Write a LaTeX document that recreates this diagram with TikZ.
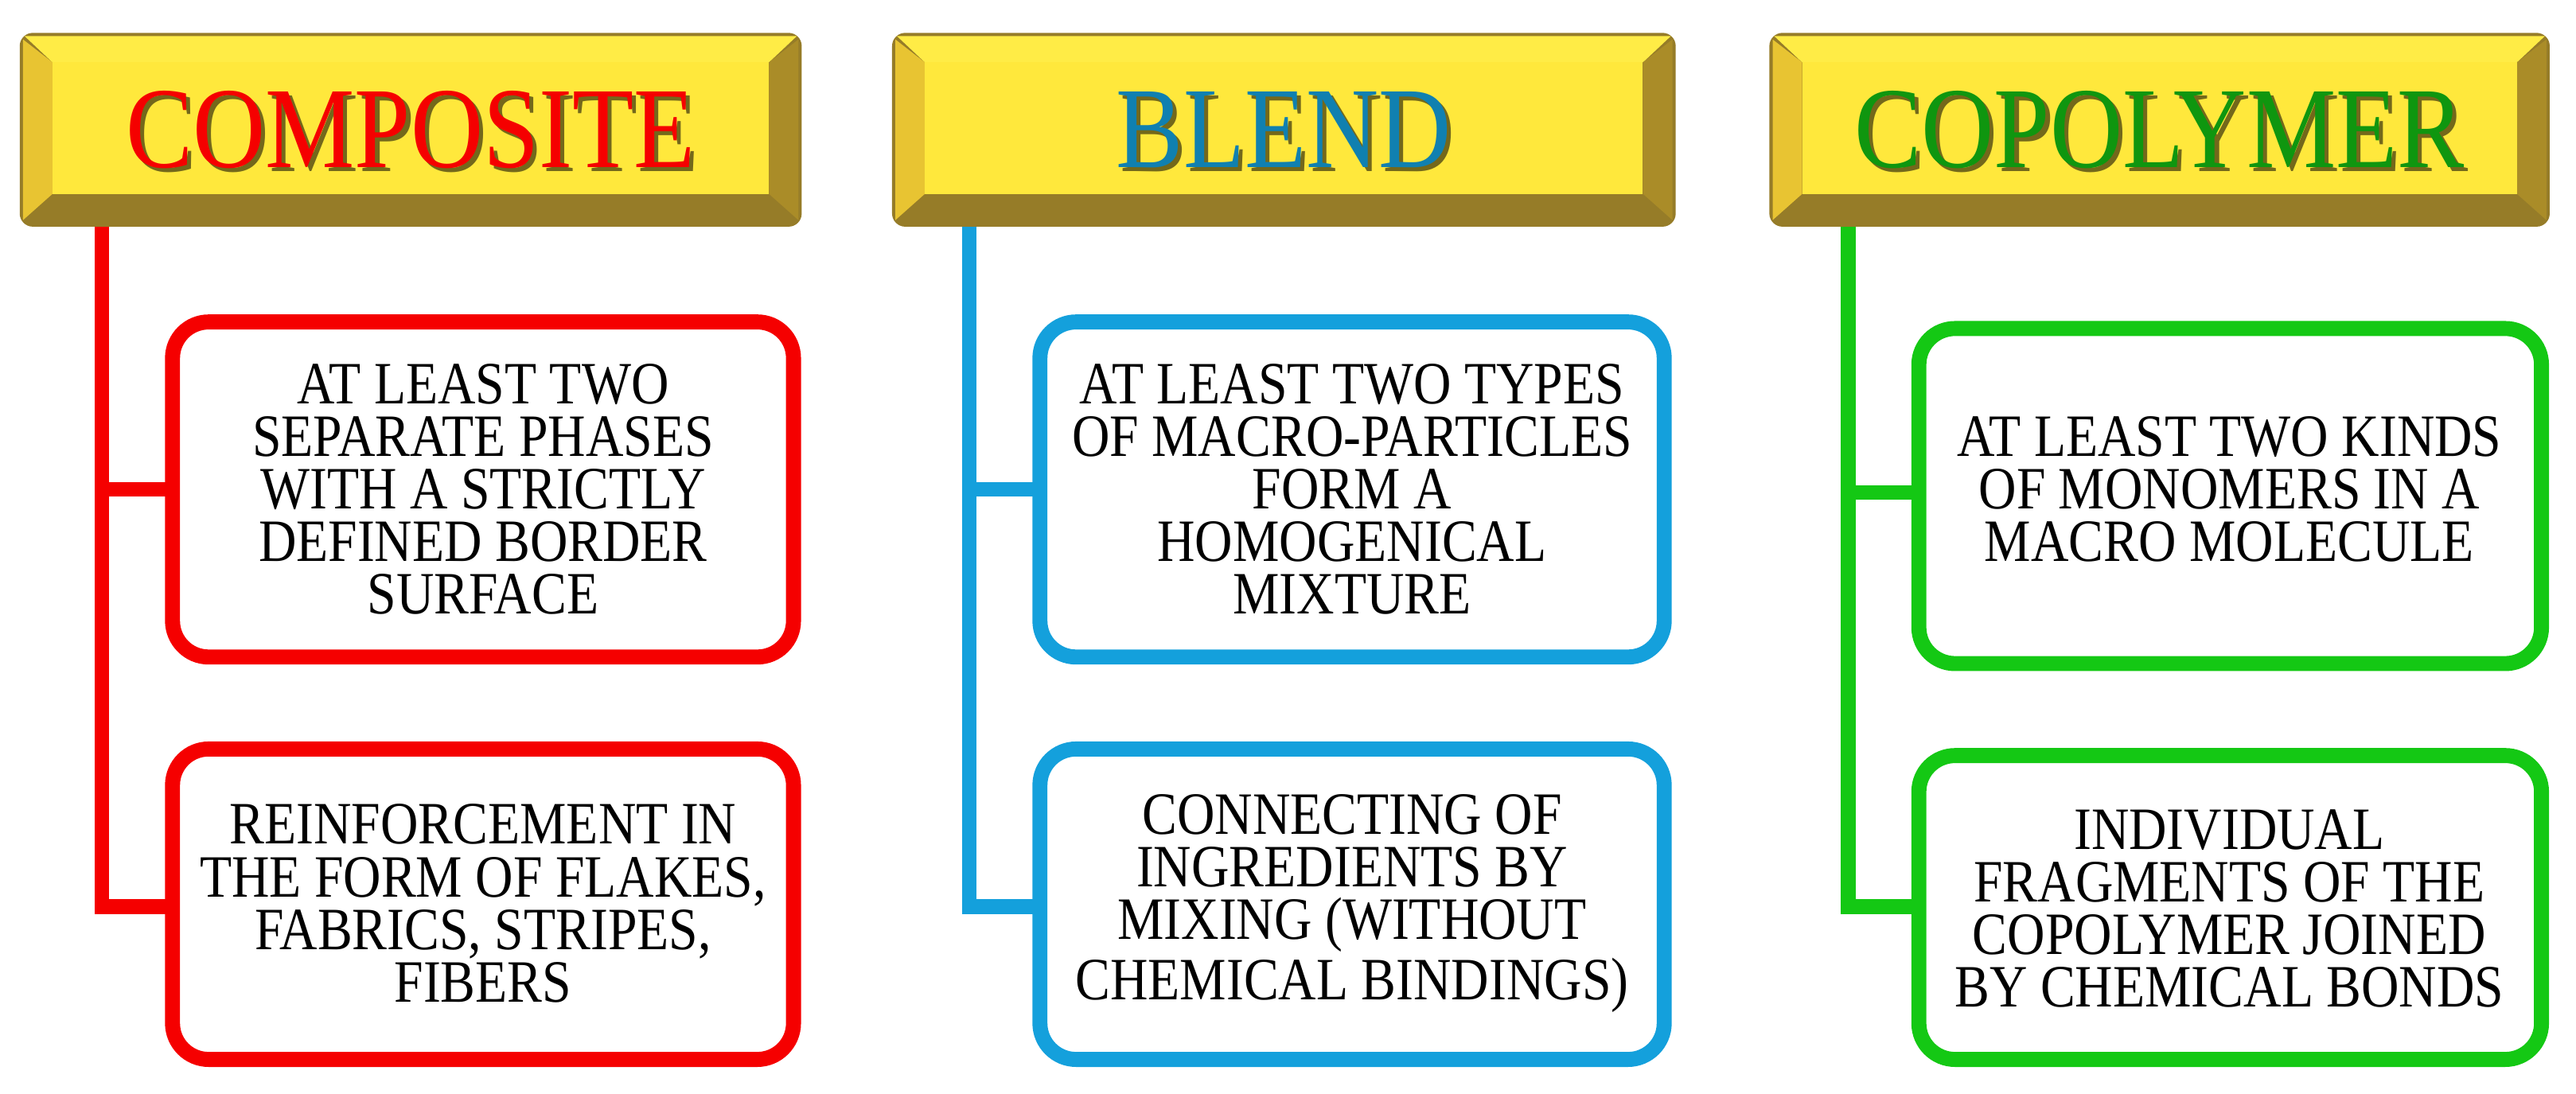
\documentclass[tikz,border=0pt]{standalone}
\usepackage{fontspec}
\setmainfont{Liberation Serif}
\begin{document}
\begin{tikzpicture}[x=0.01cm,y=-0.01cm,
  box/.style={draw=#1,line width=2.6pt,rounded corners=0.22cm,fill=white},
  txt/.style={align=center,font=\fontsize{10.4}{9.1}\selectfont,xscale=0.87,transform shape},
  hd/.style={font=\fontsize{20}{20}\selectfont,xscale=0.87,transform shape},
  ln/.style={draw=#1,line width=2.5pt}]
\definecolor{cr}{RGB}{245,0,0}
\definecolor{cb}{RGB}{20,160,220}
\definecolor{cg}{RGB}{20,200,20}
\definecolor{yface}{RGB}{255,232,60}
\definecolor{ytop}{RGB}{255,236,70}
\definecolor{yleft}{RGB}{232,196,50}
\definecolor{yright}{RGB}{170,140,40}
\definecolor{ybot}{RGB}{150,124,40}
\useasboundingbox (0,0) rectangle (1568,666);
\newcommand{\hdr}[5]{% x1 x2 name text color
  \begin{scope}
  \fill[ybot,rounded corners=0.08cm] (#1,20) rectangle (#2,138);
  \fill[ytop] (#1+3,22) -- (#2-3,22) -- (#2-20,38) -- (#1+20,38) -- cycle;
  \fill[yleft] (#1+2,24) -- (#1+20,38) -- (#1+20,118) -- (#1+2,134) -- cycle;
  \fill[yright] (#2-2,24) -- (#2-20,38) -- (#2-20,118) -- (#2-2,134) -- cycle;
  \fill[yface] (#1+20,38) rectangle (#2-20,118);
  \node[hd,text=black!55!yface] at ({(#1+#2)/2+2.5},81.5) {#4};
  \node[hd,text=#5] (#3) at ({(#1+#2)/2},79) {#4};
  \end{scope}}
\hdr{12}{488}{h1}{COMPOSITE}{cr}
\hdr{543}{1020}{h2}{BLEND}{cb!80!black}
\hdr{1077}{1552}{h3}{COPOLYMER}{cg!75!black}
% boxes
\draw[box=cr] (105,196) rectangle (483,400); \node[txt] (a1) at (294,298) {AT LEAST TWO\\ SEPARATE PHASES\\ WITH A STRICTLY\\ DEFINED BORDER\\ SURFACE};
\draw[box=cr] (105,456) rectangle (483,645); \node[txt] (a2) at (294,550) {REINFORCEMENT IN\\ THE FORM OF FLAKES,\\ FABRICS, STRIPES,\\ FIBERS};
\draw[box=cb] (633,196) rectangle (1013,400); \node[txt] (b1) at (823,298) {AT LEAST TWO TYPES\\ OF MACRO-PARTICLES\\ FORM A\\ HOMOGENICAL\\ MIXTURE};
\draw[box=cb] (633,456) rectangle (1013,645); \node[txt] (b2) at (823,550) {CONNECTING OF\\ INGREDIENTS BY\\ MIXING (WITHOUT\\ CHEMICAL BINDINGS)};
\draw[box=cg] (1168,200) rectangle (1547,404); \node[txt] (c1) at (1357,298) {AT LEAST TWO KINDS\\ OF MONOMERS IN A\\ MACRO MOLECULE};
\draw[box=cg] (1168,460) rectangle (1547,645); \node[txt] (c2) at (1357,553) {INDIVIDUAL\\ FRAGMENTS OF THE\\ COPOLYMER JOINED\\ BY CHEMICAL BONDS};
% connectors
\coordinate (p1) at (62,138); \coordinate (q1) at (103,298); \coordinate (r1) at (103,552);
\draw[ln=cr] (p1) |- (q1); \draw[ln=cr] (62,290) |- (r1);
\coordinate (p2) at (590,138); \coordinate (q2) at (631,298); \coordinate (r2) at (631,552);
\draw[ln=cb] (p2) |- (q2); \draw[ln=cb] (590,290) |- (r2);
\coordinate (p3) at (1125,138); \coordinate (q3) at (1166,300); \coordinate (r3) at (1166,552);
\draw[ln=cg] (p3) |- (q3); \draw[ln=cg] (1125,290) |- (r3);
\end{tikzpicture}
\end{document}
